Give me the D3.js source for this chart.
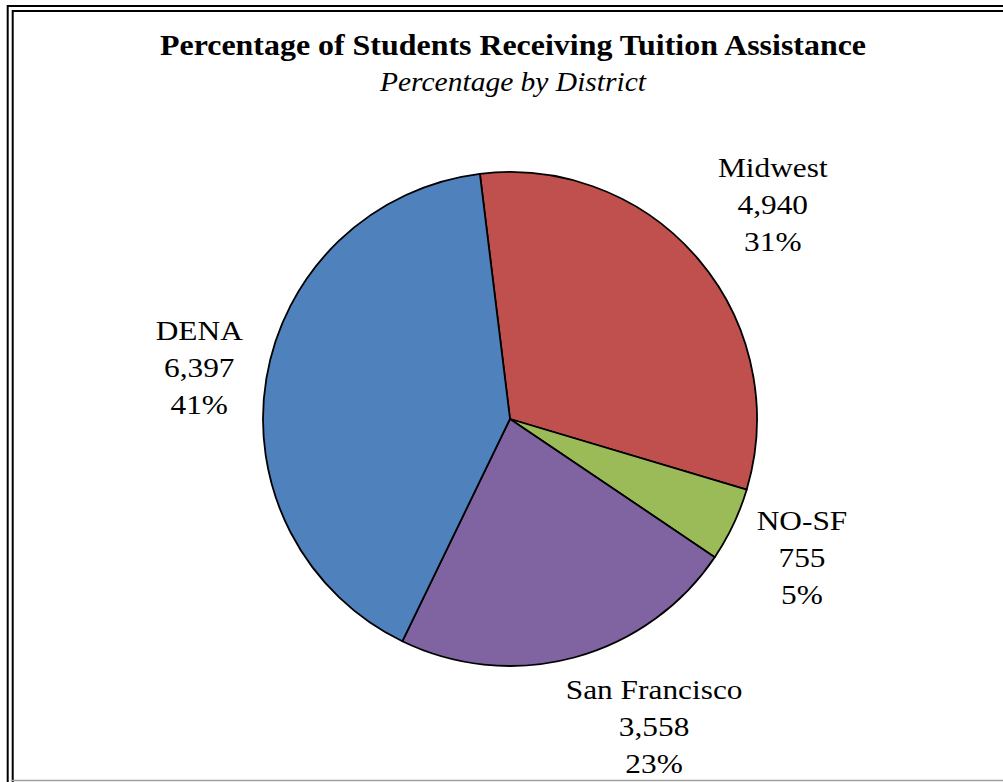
<!DOCTYPE html>
<html>
<head>
<meta charset="utf-8">
<script src="https://cdn.jsdelivr.net/npm/d3@7"></script>
<style>
  html, body { margin: 0; padding: 0; background: #fff; }
  svg { display: block; }
</style>
</head>
<body>
<svg id="chart" width="1003" height="782"></svg>
<script>
// data, clockwise from the top
const districts = ["Midwest", "NO-SF", "San Francisco", "DENA"];
const students = [4940, 755, 3558, 6397];
const percents = ["31%", "5%", "23%", "41%"];
const sliceColors = ["#C0504D", "#9BBB59", "#8064A2", "#4F81BD"];

const titleText = "Percentage of Students Receiving Tuition Assistance";
const subtitleText = "Percentage by District";

const svg = d3.select("#chart");
const W = 1003, H = 782;
const cx = 510, cy = 419, radius = 247;
const sx = 1.12; // label text in the picture is a bit wide
const serif = "'Liberation Serif', 'Times New Roman', serif";

// frame (double line on top/left, grey bottom line)
svg.append("path")
    .attr("d", `M7.7,${H} V6 H${W}`)
    .attr("fill", "none").attr("stroke", "#000").attr("stroke-width", 2);
svg.append("path")
    .attr("d", `M12.7,${H} V11 H${W}`)
    .attr("fill", "none").attr("stroke", "#000").attr("stroke-width", 2);
svg.append("line")
    .attr("x1", 12).attr("x2", W).attr("y1", 780.5).attr("y2", 780.5)
    .attr("stroke", "#a0a0a0").attr("stroke-width", 1.5);

// titles
svg.append("text")
    .attr("x", 513).attr("y", 55)
    .attr("text-anchor", "middle")
    .attr("textLength", 706)
    .attr("lengthAdjust", "spacingAndGlyphs")
    .style("font-family", serif)
    .style("font-weight", "bold")
    .style("font-size", "29px")
    .text(titleText);

svg.append("text")
    .attr("x", 513).attr("y", 91)
    .attr("text-anchor", "middle")
    .attr("textLength", 266)
    .attr("lengthAdjust", "spacingAndGlyphs")
    .style("font-family", serif)
    .style("font-style", "italic")
    .style("font-size", "28px")
    .text(subtitleText);

// pie
const rows = districts.map((d, i) => ({ name: d, value: students[i], pct: percents[i], color: sliceColors[i] }));
const startA = -7 * Math.PI / 180;
const pie = d3.pie()
    .value(d => d.value)
    .sort(null)
    .startAngle(startA)
    .endAngle(startA + 2 * Math.PI);
const arc = d3.arc().innerRadius(0).outerRadius(radius);

const g = svg.append("g").attr("transform", `translate(${cx},${cy})`);
const arcs = pie(rows);

g.selectAll("path.slice")
    .data(arcs)
    .join("path")
    .attr("class", "slice")
    .attr("d", arc)
    .attr("fill", d => d.data.color)
    .attr("stroke", "#000")
    .attr("stroke-width", 1.8)
    .attr("stroke-linejoin", "round");

// label placement (best-fit style, tweaked by angle & distance)
const labelFit = {
  "Midwest":       { da: 1,   r: 339 },
  "NO-SF":         { da: 0,   r: 323 },
  "San Francisco": { da: -10, r: 340 },
  "DENA":          { da: 0,   r: 315 }
};
const fmt = d3.format(",");
const lineH = 37;

const labels = g.selectAll("g.label")
    .data(arcs)
    .join("g")
    .attr("class", "label")
    .attr("transform", d => {
      const fit = labelFit[d.data.name];
      const a = (d.startAngle + d.endAngle) / 2 + fit.da * Math.PI / 180;
      const x = Math.sin(a) * fit.r;
      const y = -Math.cos(a) * fit.r + 9.5;
      return `translate(${x},${y})`;
    });

labels.each(function(d) {
  const lines = [d.data.name, fmt(d.data.value), d.data.pct];
  d3.select(this).selectAll("text")
      .data(lines)
      .join("text")
      .attr("transform", (t, i) => `translate(0,${(i - 1) * lineH}) scale(${sx},1)`)
      .attr("text-anchor", "middle")
      .style("font-family", serif)
      .style("font-size", "28px")
      .attr("fill", "#000")
      .text(t => t);
});
</script>
</body>
</html>
